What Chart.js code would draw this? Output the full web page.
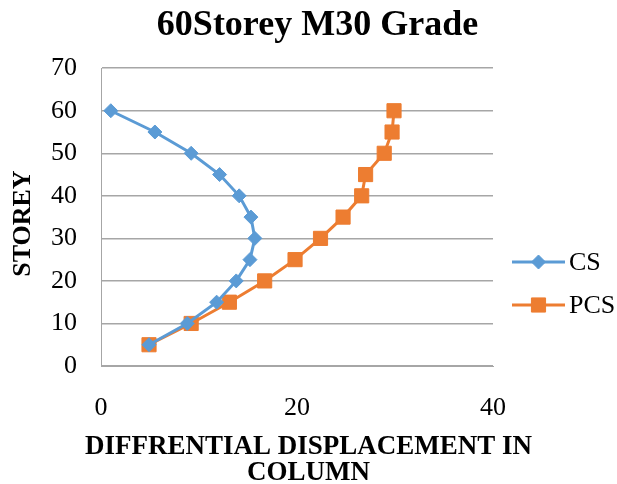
<!DOCTYPE html>
<html>
<head>
<meta charset="utf-8">
<script src="https://cdn.jsdelivr.net/npm/chart.js@4"></script>
<style>
  html, body { margin: 0; padding: 0; background: #fff; }
  #wrap { width: 617px; height: 484px; }
</style>
</head>
<body>
<div id="wrap"><canvas id="c" width="617" height="484"></canvas></div>
<script>
// Storey levels and differential displacement in column
const storeys = [60, 55, 50, 45, 40, 35, 30, 25, 20, 15, 10, 5];
const csDisp  = [1.0, 5.5, 9.2, 12.1, 14.1, 15.3, 15.7, 15.2, 13.8, 11.8, 8.8, 4.9];
const pcsDisp = [29.9, 29.7, 28.9, 27.0, 26.6, 24.7, 22.4, 19.8, 16.7, 13.1, 9.2, 4.9];
const seriesNames = ['CS', 'PCS'];
const xTicks = [0, 20, 40];
const yTicks = [0, 10, 20, 30, 40, 50, 60, 70];
const xTitleLines = ['DIFFRENTIAL DISPLACEMENT IN', 'COLUMN'];

const BLUE = '#5B9BD5';
const ORANGE = '#ED7D31';
const GRID = '#A6A6A6';
const SERIF = '"Liberation Serif", "Times New Roman", serif';

const toPoints = (xs) => xs.map((x, i) => ({ x: x, y: storeys[i] }));

// Legend in the right-hand margin, level with the lower half of the plot,
// plus the two-line horizontal axis title centred under the whole figure
const sideLegend = {
  id: 'sideLegend',
  afterDraw(chart) {
    const ctx = chart.ctx;
    const area = chart.chartArea;
    const rowY = [262, 305];
    const x0 = area.right + 19, x1 = area.right + 72;
    ctx.save();
    chart.data.datasets.forEach((ds, i) => {
      const y = rowY[i];
      ctx.strokeStyle = ds.borderColor;
      ctx.lineWidth = 3;
      ctx.beginPath();
      ctx.moveTo(x0, y);
      ctx.lineTo(x1, y);
      ctx.stroke();
      ctx.fillStyle = ds.pointBackgroundColor;
      ctx.strokeStyle = ds.pointBorderColor;
      ctx.lineWidth = 1;
      Chart.helpers.drawPoint(ctx, {
        pointStyle: ds.pointStyle,
        radius: ds.pointRadius,
        borderWidth: 1
      }, (x0 + x1) / 2, y);
      ctx.fillStyle = '#000';
      ctx.font = '26px ' + SERIF;
      ctx.textBaseline = 'middle';
      ctx.textAlign = 'left';
      ctx.fillText(ds.label, x1 + 4, y + 1);
    });

    ctx.fillStyle = '#000';
    ctx.font = 'bold 27px ' + SERIF;
    ctx.textAlign = 'center';
    ctx.textBaseline = 'middle';
    const cx = chart.width / 2;
    xTitleLines.forEach((line, i) => {
      ctx.fillText(line, cx, area.bottom + 81 + i * 26);
    });
    ctx.restore();
  }
};

new Chart(document.getElementById('c'), {
  type: 'scatter',
  data: {
    datasets: [
      {
        label: seriesNames[0],
        data: toPoints(csDisp),
        showLine: true,
        borderColor: BLUE,
        backgroundColor: BLUE,
        pointBackgroundColor: BLUE,
        pointBorderColor: BLUE,
        borderWidth: 3,
        pointStyle: 'rectRot',
        pointRadius: 7,
        pointHoverRadius: 7,
        pointBorderWidth: 1
      },
      {
        label: seriesNames[1],
        data: toPoints(pcsDisp),
        showLine: true,
        borderColor: ORANGE,
        backgroundColor: ORANGE,
        pointBackgroundColor: ORANGE,
        pointBorderColor: ORANGE,
        borderWidth: 3,
        pointStyle: 'rect',
        pointRadius: 10,
        pointHoverRadius: 10,
        pointBorderWidth: 1
      }
    ]
  },
  options: {
    responsive: false,
    animation: false,
    layout: { padding: { left: 0, right: 0, top: 4, bottom: 0 } },
    plugins: {
      legend: { display: false },
      tooltip: { enabled: false },
      title: {
        display: true,
        text: '\u200260Storey M30 Grade',
        color: '#000',
        font: { family: SERIF, size: 36, weight: 'bold', lineHeight: 1.2 },
        padding: { top: 0, bottom: 21 }
      }
    },
    scales: {
      x: {
        type: 'linear',
        min: 0,
        max: 40,
        afterBuildTicks: (s) => { s.ticks = xTicks.map(v => ({ value: v })); },
        afterFit: (s) => { s.height = 118; },
        ticks: {
          color: '#000',
          font: { family: SERIF, size: 26, lineHeight: 1.0 },
          padding: 29
        },
        grid: { display: false, drawTicks: false },
        border: { display: true, color: GRID, width: 1 },
        title: { display: false }
      },
      y: {
        type: 'linear',
        min: 0,
        max: 70,
        afterBuildTicks: (s) => { s.ticks = yTicks.map(v => ({ value: v })); },
        afterFit: (s) => { s.width = 101; },
        ticks: {
          color: '#000',
          font: { family: SERIF, size: 26, lineHeight: 1.0 },
          padding: 24
        },
        grid: { color: GRID, lineWidth: 1.5, drawTicks: false },
        border: { display: true, color: GRID, width: 1 },
        title: {
          display: true,
          text: 'STOREY\u2002',
          color: '#000',
          font: { family: SERIF, size: 26, weight: 'bold', lineHeight: 1.0 },
          padding: { top: 10, bottom: 14 }
        }
      },
      // empty right-hand axis that keeps room for the legend
      side: {
        type: 'linear',
        position: 'right',
        display: true,
        min: 0,
        max: 70,
        ticks: { display: false },
        grid: { display: false, drawTicks: false },
        border: { display: false },
        afterFit: (s) => { s.width = 124; }
      }
    }
  },
  plugins: [sideLegend]
});
</script>
</body>
</html>
